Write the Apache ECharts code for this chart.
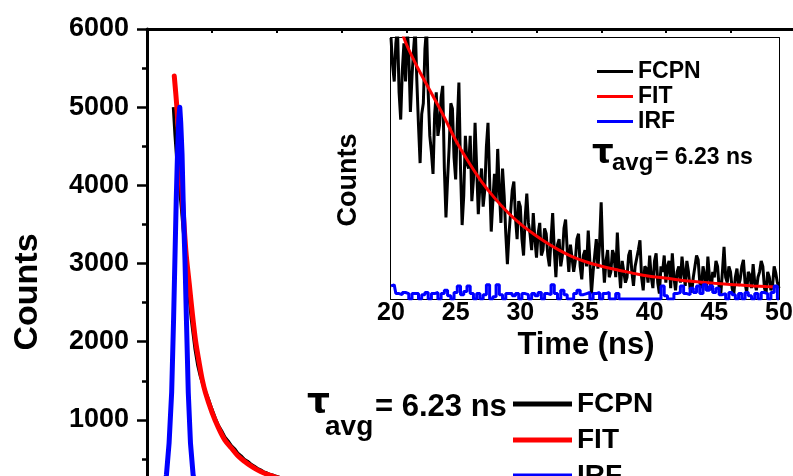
<!DOCTYPE html>
<html>
<head>
<meta charset="utf-8">
<script src="https://cdn.jsdelivr.net/npm/echarts@6/dist/echarts.min.js"></script>
<style>html,body{margin:0;padding:0;background:#fff;}#c{width:793px;height:476px;}</style>
</head>
<body>
<div id="c"></div>
<script>
// ---- Main panel data (time in ns, counts) ----
const mainFcpnT = [4.05,4.3,4.6,4.9,5.1,5.3,5.6,5.9,6.2,6.5,6.8,7.1,7.4,7.8,8.2,8.6,9.0,9.5,10,10.5,11,11.5,12,12.5,13,13.5,14,14.5,15,15.5,16,16.5,17,17.5,18,18.5,19,19.5,20,20.5,21,22];
const mainFcpnC = [5000,4650,4300,4050,4060,3700,3400,3100,2800,2550,2300,2100,1900,1700,1560,1450,1370,1260,1140,1030,930,860,780,730,670,630,575,540,495,470,435,410,380,360,335,320,300,290,275,262,250,230];
const mainFitT = [4.2,4.6,5.0,5.4,6.0,6.5,7.0,7.5,8.0,8.5,9.0,10,11,12,13,14,15,16,17,18,19,20,21,22];
const mainFitC = [5400,5000,4450,3900,3150,2750,2350,2000,1750,1520,1350,1100,900,740,640,540,470,410,360,320,290,260,240,220];
const mainIrfT = [2.0,2.6,3.0,3.4,3.8,4.1,4.3,4.5,4.7,4.9,5.05,5.2,5.4,5.6,5.85,6.1,6.36,6.7,7.1,7.6,8.2,9,10,12,15,20];
const mainIrfC = [0,60,300,700,1350,2300,3050,3800,4400,4850,5000,4800,4400,3700,3050,2200,1350,700,300,80,20,8,5,3,2,2];
const mainYTicks = [0,1000,2000,3000,4000,5000,6000];

// ---- Inset data (20-50 ns) ----
const insetFcpnT = [
20,20.125,20.25,20.375,20.5,20.625,20.75,20.875, 21,21.125,21.25,21.375,21.5,21.625,21.75,21.875,
22,22.125,22.25,22.375,22.5,22.625,22.75,22.875, 23,23.125,23.25,23.375,23.5,23.625,23.75,23.875,
24,24.125,24.25,24.375,24.5,24.625,24.75,24.875, 25,25.125,25.25,25.375,25.5,25.625,25.75,25.875,
26,26.125,26.25,26.375,26.5,26.625,26.75,26.875, 27,27.125,27.25,27.375,27.5,27.625,27.75,27.875,
28,28.125,28.25,28.375,28.5,28.625,28.75,28.875, 29,29.125,29.25,29.375,29.5,29.625,29.75,29.875,
30,30.125,30.25,30.375,30.5,30.625,30.75,30.875, 31,31.125,31.25,31.375,31.5,31.625,31.75,31.875,
32,32.125,32.25,32.375,32.5,32.625,32.75,32.875, 33,33.125,33.25,33.375,33.5,33.625,33.75,33.875,
34,34.125,34.25,34.375,34.5,34.625,34.75,34.875, 35,35.125,35.25,35.375,35.5,35.625,35.75,35.875,
36,36.125,36.25,36.375,36.5,36.625,36.75,36.875, 37,37.125,37.25,37.375,37.5,37.625,37.75,37.875,
38,38.125,38.25,38.375,38.5,38.625,38.75,38.875, 39,39.125,39.25,39.375,39.5,39.625,39.75,39.875,
40,40.125,40.25,40.375,40.5,40.625,40.75,40.875, 41,41.125,41.25,41.375,41.5,41.625,41.75,41.875,
42,42.125,42.25,42.375,42.5,42.625,42.75,42.875, 43,43.125,43.25,43.375,43.5,43.625,43.75,43.875,
44,44.125,44.25,44.375,44.5,44.625,44.75,44.875, 45,45.125,45.25,45.375,45.5,45.625,45.75,45.875,
46,46.125,46.25,46.375,46.5,46.625,46.75,46.875, 47,47.125,47.25,47.375,47.5,47.625,47.75,47.875,
48,48.125,48.25,48.375,48.5,48.625,48.75,48.875, 49,49.125,49.25,49.375,49.5,49.625,49.75,49.875,
50];
const insetFcpn = [
240,215,200,235,250,190,165,210, 235,200,250,225,172,205,230,250,
200,160,125,170,180,230,250,190, 150,135,115,170,190,150,160,185,
196,120,75,110,140,180,175,130, 110,160,199,120,68,95,150,125,
120,150,90,110,162,120,78,105, 120,85,100,140,162,110,62,90,
115,90,138,100,70,120,95,60, 32,60,80,100,108,75,55,90,
85,55,40,75,97,70,60,45, 79,55,38,60,70,40,45,65,
60,40,30,55,79,45,20,50, 55,30,40,65,73,45,25,50,
50,25,35,55,60,30,18,40, 45,30,63,35,5,25,40,55,
28,50,89,40,15,35,45,20, 25,45,40,20,61,30,10,35,
35,15,20,40,45,25,12,30, 30,45,54,20,8,30,28,15,
40,20,10,35,42,15,5,30, 25,40,15,30,35,10,42,20,
8,25,30,15,39,25,12,35, 25,10,6,20,30,40,36,15,
10,30,22,8,39,20,8,25, 20,35,30,10,5,25,48,20,
15,30,25,10,4,20,28,12, 18,30,36,15,6,25,22,10,
32,15,8,20,25,35,30,10, 5,25,20,8,12,30,24,15,
10];
const insetIrfT = [20,20.25,20.5,20.75,21,21.25,21.5,21.75,22,22.25,22.5,22.75,23,23.25,23.5,23.75,24,24.25,24.5,24.75,25,25.25,25.5,25.75,26,26.25,26.5,26.75,27,27.25,27.5,27.75,28,28.25,28.5,28.75,29,29.25,29.5,29.75,30,30.25,30.5,30.75,31,31.25,31.5,31.75,32,32.25,32.5,32.75,33,33.25,33.5,33.75,34,34.25,34.5,34.75,35,35.25,35.5,35.75,36,36.25,36.5,36.75,37,37.25,37.5,37.75,38,38.25,38.5,38.75,39,39.25,39.5,39.75,40,40.25,40.5,40.75,41,41.25,41.5,41.75,42,42.25,42.5,42.75,43,43.25,43.5,43.75,44,44.25,44.5,44.75,45,45.25,45.5,45.75,46,46.25,46.5,46.75,47,47.25,47.5,47.75,48,48.25,48.5,48.75,49,49.25,49.5,49.75,50];
const insetIrf = [12,13,5,4, 6,5,0,5, 5,0,4,6, 0,5,6,0, 5,8,3,0, 6,12,4,7, 12,5,0,5, 0,4,13,0, 2,13,4,0, 5,5,3,5, 0,5,4,0, 5,3,6,0, 5,4,13,5, 0,8,4,0, 0,5,8,4, 5,6,0,5, 6,0,5,6, 0,0,5,0, 0,0,0,0, 0,0,0,0, 0,0,0,0, 12,3,0,0, 5,6,12,5, 4,10,6,12, 5,13,8,12, 6,10,4,5, 0,6,4,0, 5,0,6,3, 0,5,0,6, 5,0,6,12, 0];
const insetFitT = [20.7,21,22,23,24,25,26,27,28,29,30,31,32,33,34,35,36,37,38,39,40,41,42,43,44,45,46,47,48,49,49.8];
const insetFitV = [258,240,214,192,170,146,126,108,93,80,69,60,52,45,39,34.5,31,28,25.5,23,21,19.5,18,16.5,15.5,14.4,13.5,12.8,12,11.4,11];
const insetXTicks = [20,25,30,35,40,45,50];

const seriesNames = ['FCPN','FIT','IRF'];
const seriesColors = ['#000000','#ff0000','#0000ff'];
const tauText = ['τ','avg','= 6.23 ns'];

const FONT = '"Liberation Sans", Arial, Helvetica, sans-serif';
const TAUFONT = '"DejaVu Sans", "Liberation Sans", sans-serif';
const zip = (a,b) => a.map((v,i)=>[v,b[i]]);

const chart = echarts.init(document.getElementById('c'), null, {renderer:'canvas'});

function txt(x,y,text,size,opts){
  opts = opts || {};
  return {type:'text', x:x, y:y, rotation: opts.rot || 0, z:100,
    style:{text:text, font:'bold '+size+'px '+(opts.family||FONT), fill:'#000',
      align:opts.align||'left', textAlign:opts.align||'left',
      verticalAlign:'middle', textVerticalAlign:'middle'}};
}

const option = {
  animation:false,
  backgroundColor:'#ffffff',
  grid:[
    {left:147, top:29, width:649, height:469, show:false, outerBoundsMode:'none', containLabel:false},
    {left:391, top:38, width:388, height:261, show:true, backgroundColor:'#ffffff', borderWidth:0, borderColor:'transparent', z:5, outerBoundsMode:'none', containLabel:false}
  ],
  xAxis:[
    {gridIndex:0, type:'value', min:0, max:100, interval:10, position:'bottom',
     axisLine:{show:true, onZero:false, lineStyle:{color:'#000', width:3}}, axisTick:{show:false}, axisLabel:{show:false}, splitLine:{show:false}},
    {gridIndex:0, type:'value', min:0, max:100, interval:10, position:'top',
     axisLine:{show:true, onZero:false, lineStyle:{color:'#000', width:3}}, axisTick:{show:true, inside:true, length:4, lineStyle:{color:'#000', width:2}}, axisLabel:{show:false}, splitLine:{show:false}},
    {gridIndex:1, type:'value', min:insetXTicks[0], max:insetXTicks[insetXTicks.length-1], interval:5, position:'bottom',
     axisLine:{show:true, onZero:false, lineStyle:{color:'#000', width:2}},
     axisTick:{show:true, inside:true, length:5, lineStyle:{color:'#000', width:1.5}},
     minorTick:{show:true, splitNumber:2, length:3, lineStyle:{color:'#000', width:1}},
     axisLabel:{show:true, fontSize:25, fontWeight:'bold', fontFamily:FONT, color:'#000', margin:2, formatter:v=>String(v)},
     splitLine:{show:false}},
    {gridIndex:1, type:'value', min:20, max:50, interval:5, position:'top',
     axisLine:{show:true, onZero:false, lineStyle:{color:'#000', width:2}},
     axisTick:{show:true, inside:true, length:4, lineStyle:{color:'#000', width:1.5}},
     minorTick:{show:true, splitNumber:2, length:3, lineStyle:{color:'#000', width:1}},
     axisLabel:{show:false}, splitLine:{show:false}}
  ],
  yAxis:[
    {gridIndex:0, type:'value', min:mainYTicks[0], max:mainYTicks[mainYTicks.length-1], interval:1000,
     axisLine:{show:true, onZero:false, lineStyle:{color:'#000', width:3}},
     axisTick:{show:true, inside:false, length:10, lineStyle:{color:'#000', width:2.5}},
     minorTick:{show:true, splitNumber:2, length:5, lineStyle:{color:'#000', width:2.5}},
     axisLabel:{show:true, fontSize:27, fontWeight:'bold', fontFamily:FONT, color:'#000', margin:18, formatter:v=>String(v)},
     splitLine:{show:false}},
    {gridIndex:1, type:'value', min:0, max:240, interval:15,
     axisLine:{show:true, onZero:false, lineStyle:{color:'#000', width:2}},
     axisTick:{show:true, inside:true, length:4, lineStyle:{color:'#000', width:1.5}},
     axisLabel:{show:false}, splitLine:{show:false}},
    {gridIndex:1, type:'value', min:0, max:240, interval:15, position:'right',
     axisLine:{show:true, onZero:false, lineStyle:{color:'#000', width:2}},
     axisTick:{show:true, inside:true, length:4, lineStyle:{color:'#000', width:1.5}},
     axisLabel:{show:false}, splitLine:{show:false}}
  ],
  legend:[
    {orient:'vertical', left:508, top:385, height:160, itemWidth:59, itemHeight:5, itemGap:8, selectedMode:false, z:20,
     textStyle:{fontSize:28, fontWeight:'bold', fontFamily:FONT, color:'#000', lineHeight:28},
     data:seriesNames.map(n=>({name:n, icon:'rect'}))},
    {orient:'vertical', left:592, top:55, height:120, itemWidth:36, itemHeight:3, itemGap:2, selectedMode:false, z:20,
     textStyle:{fontSize:23, fontWeight:'bold', fontFamily:FONT, color:'#000', lineHeight:23},
     data:seriesNames.map(n=>({name:n, icon:'rect'}))}
  ],
  series:[
    {name:seriesNames[0], type:'line', xAxisIndex:0, yAxisIndex:0, data:zip(mainFcpnT,mainFcpnC), showSymbol:false, color:seriesColors[0],
     lineStyle:{color:seriesColors[0], width:3}, itemStyle:{color:seriesColors[0]}, z:2},
    {name:seriesNames[1], type:'line', xAxisIndex:0, yAxisIndex:0, data:zip(mainFitT,mainFitC), showSymbol:false, smooth:0.3, color:seriesColors[1],
     lineStyle:{color:seriesColors[1], width:5, cap:'round'}, itemStyle:{color:seriesColors[1]}, z:3},
    {name:seriesNames[2], type:'line', xAxisIndex:0, yAxisIndex:0, data:zip(mainIrfT,mainIrfC), showSymbol:false, color:seriesColors[2],
     lineStyle:{color:seriesColors[2], width:5, cap:'round', join:'round'}, itemStyle:{color:seriesColors[2]}, z:4},
    {name:seriesNames[0], type:'line', xAxisIndex:2, yAxisIndex:1, data:zip(insetFcpnT,insetFcpn), showSymbol:false, color:seriesColors[0],
     lineStyle:{color:seriesColors[0], width:3}, itemStyle:{color:seriesColors[0]}, z:6},
    {name:seriesNames[1], type:'line', xAxisIndex:2, yAxisIndex:1, data:zip(insetFitT,insetFitV), showSymbol:false, smooth:0.3, color:seriesColors[1],
     lineStyle:{color:seriesColors[1], width:3}, itemStyle:{color:seriesColors[1]}, z:7},
    {name:seriesNames[2], type:'line', xAxisIndex:2, yAxisIndex:1, data:zip(insetIrfT,insetIrf), showSymbol:false, step:'middle', color:seriesColors[2],
     lineStyle:{color:seriesColors[2], width:3}, itemStyle:{color:seriesColors[2]}, z:8}
  ],
  graphic:[
    txt(27.5, 292, 'Counts', 34, {rot:Math.PI/2, align:'center'}),
    txt(349, 180, 'Counts', 27, {rot:Math.PI/2, align:'center'}),
    txt(586, 345, 'Time (ns)', 31, {align:'center'}),
    txt(307, 404, tauText[0], 36, {family:TAUFONT}),
    txt(325, 427, tauText[1], 28),
    txt(375, 407, tauText[2], 31),
    txt(592, 154, tauText[0], 34, {family:TAUFONT}),
    txt(612, 163, tauText[1], 24),
    txt(655, 158, tauText[2], 23)
  ]
};
chart.setOption(option);
</script>
</body>
</html>
